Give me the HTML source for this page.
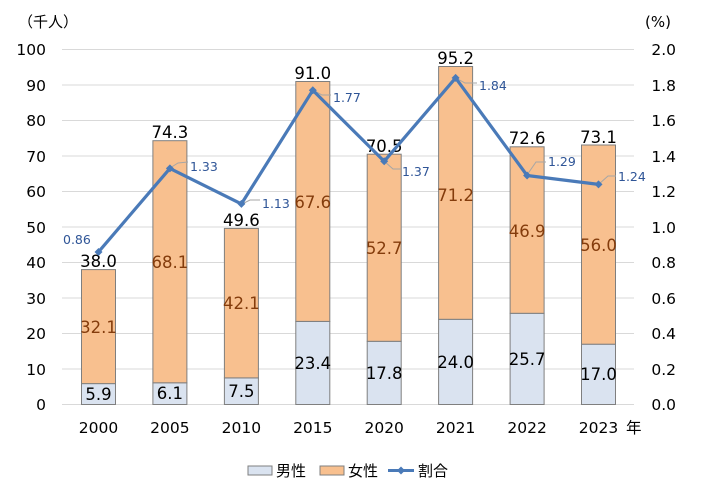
<!DOCTYPE html>
<html><head><meta charset="utf-8"><style>
body{margin:0;background:#fff}
svg text{font-family:"DejaVu Sans","Liberation Sans","Noto Sans CJK JP",sans-serif}
</style></head><body>
<svg width="701" height="493" viewBox="0 0 701 493" xmlns="http://www.w3.org/2000/svg">
<g stroke="#d9d9d9" stroke-width="1">
<line x1="62" x2="634" y1="49.5" y2="49.5"/><line x1="62" x2="634" y1="85" y2="85"/><line x1="62" x2="634" y1="120.5" y2="120.5"/><line x1="62" x2="634" y1="156" y2="156"/><line x1="62" x2="634" y1="191.5" y2="191.5"/><line x1="62" x2="634" y1="227" y2="227"/><line x1="62" x2="634" y1="262.5" y2="262.5"/><line x1="62" x2="634" y1="298" y2="298"/><line x1="62" x2="634" y1="333.5" y2="333.5"/><line x1="62" x2="634" y1="369" y2="369"/><line x1="62" x2="634" y1="404.5" y2="404.5"/>
</g>
<g font-size="15.5" fill="#000" text-anchor="end">
<text x="46" y="55">100</text><text x="46" y="91">90</text><text x="46" y="126">80</text><text x="46" y="162">70</text><text x="46" y="197">60</text><text x="46" y="233">50</text><text x="46" y="268">40</text><text x="46" y="304">30</text><text x="46" y="339">20</text><text x="46" y="375">10</text><text x="46" y="410">0</text>
<text x="676" y="55">2.0</text><text x="676" y="91">1.8</text><text x="676" y="126">1.6</text><text x="676" y="162">1.4</text><text x="676" y="197">1.2</text><text x="676" y="233">1.0</text><text x="676" y="268">0.8</text><text x="676" y="304">0.6</text><text x="676" y="339">0.4</text><text x="676" y="375">0.2</text><text x="676" y="410">0.0</text>
</g>
<text x="18" y="27" font-size="15">（千人）</text>
<text x="645" y="27" font-size="15">(%)</text>
<g stroke="#7f7f7f" stroke-width="1">
<rect x="81.5" y="383.6" width="34" height="20.9" fill="#dae3f0"/><rect x="81.5" y="269.6" width="34" height="114" fill="#f8c08f"/>
<rect x="152.9" y="382.8" width="34" height="21.7" fill="#dae3f0"/><rect x="152.9" y="140.7" width="34" height="242.1" fill="#f8c08f"/>
<rect x="224.4" y="377.9" width="34" height="26.6" fill="#dae3f0"/><rect x="224.4" y="228.4" width="34" height="149.5" fill="#f8c08f"/>
<rect x="295.8" y="321.4" width="34" height="83.1" fill="#dae3f0"/><rect x="295.8" y="81.5" width="34" height="239.9" fill="#f8c08f"/>
<rect x="367.2" y="341.3" width="34" height="63.2" fill="#dae3f0"/><rect x="367.2" y="154.2" width="34" height="187.1" fill="#f8c08f"/>
<rect x="438.6" y="319.3" width="34" height="85.2" fill="#dae3f0"/><rect x="438.6" y="66.5" width="34" height="252.8" fill="#f8c08f"/>
<rect x="510.1" y="313.3" width="34" height="91.2" fill="#dae3f0"/><rect x="510.1" y="146.8" width="34" height="166.5" fill="#f8c08f"/>
<rect x="581.5" y="344.2" width="34" height="60.3" fill="#dae3f0"/><rect x="581.5" y="145" width="34" height="199.2" fill="#f8c08f"/>
</g>
<g font-size="16.5" text-anchor="middle" fill="#000">
<text x="98.5" y="400">5.9</text><text x="169.9" y="399">6.1</text><text x="241.4" y="397">7.5</text><text x="312.8" y="369">23.4</text><text x="384.2" y="379">17.8</text><text x="455.6" y="368">24.0</text><text x="527.1" y="365">25.7</text><text x="598.5" y="380">17.0</text>
<text x="98.5" y="267">38.0</text><text x="169.9" y="138">74.3</text><text x="241.4" y="226">49.6</text><text x="312.8" y="79">91.0</text><text x="384.2" y="152">70.5</text><text x="455.6" y="64">95.2</text><text x="527.1" y="144">72.6</text><text x="598.5" y="143">73.1</text>
</g>
<g font-size="16.5" text-anchor="middle" fill="#843c0c">
<text x="98.5" y="333">32.1</text><text x="169.9" y="268">68.1</text><text x="241.4" y="309">42.1</text><text x="312.8" y="208">67.6</text><text x="384.2" y="254">52.7</text><text x="455.6" y="201">71.2</text><text x="527.1" y="237">46.9</text><text x="598.5" y="251">56.0</text>
</g>
<g stroke="#a6a6a6" stroke-width="1" fill="none">
<polyline points="170,168 178,163 188,162"/><polyline points="242,204 250,200 260,200"/><polyline points="313,90 322,95 331,95"/><polyline points="384,161 393,169 401,169"/><polyline points="456,78 465,83 477,83"/><polyline points="527,175 536,162 546,162"/><polyline points="599,184 608,176 616,176"/>
</g>
<polyline points="98.5,251.9 169.9,168.4 241.4,203.9 312.8,90.3 384.2,161.3 455.6,77.9 527.1,175.5 598.5,184.4" fill="none" stroke="#4a7ab8" stroke-width="3.2" stroke-linejoin="round"/>
<g fill="#4a7ab8">
<path d="M98.5 248 l4 4 -4 4 -4 -4z"/><path d="M169.9 164.4 l4 4 -4 4 -4 -4z"/><path d="M241.4 199.9 l4 4 -4 4 -4 -4z"/><path d="M312.8 86.3 l4 4 -4 4 -4 -4z"/><path d="M384.2 157.3 l4 4 -4 4 -4 -4z"/><path d="M455.6 73.9 l4 4 -4 4 -4 -4z"/><path d="M527.1 171.5 l4 4 -4 4 -4 -4z"/><path d="M598.5 180.4 l4 4 -4 4 -4 -4z"/>
</g>
<g font-size="12.5" fill="#2f5597">
<text x="63" y="244">0.86</text><text x="190" y="171">1.33</text><text x="262" y="208">1.13</text><text x="333" y="102">1.77</text><text x="402" y="176">1.37</text><text x="479" y="90">1.84</text><text x="548" y="166">1.29</text><text x="618" y="181">1.24</text>
</g>
<g font-size="15.5" text-anchor="middle" fill="#000">
<text x="98.5" y="433">2000</text><text x="169.9" y="433">2005</text><text x="241.4" y="433">2010</text><text x="312.8" y="433">2015</text><text x="384.2" y="433">2020</text><text x="455.6" y="433">2021</text><text x="527.1" y="433">2022</text><text x="598.5" y="433">2023</text>
</g>
<text x="626" y="433" font-size="15.5">年</text>
<rect x="248" y="466" width="24" height="9" fill="#dae3f0" stroke="#7f7f7f"/>
<text x="276" y="476" font-size="15">男性</text>
<rect x="320" y="466" width="24" height="9" fill="#f8c08f" stroke="#7f7f7f"/>
<text x="348" y="476" font-size="15">女性</text>
<line x1="388" x2="414" y1="470.5" y2="470.5" stroke="#4a7ab8" stroke-width="3"/>
<path d="M401 466.5 l4 4 -4 4 -4 -4z" fill="#4a7ab8"/>
<text x="418" y="476" font-size="15">割合</text>
</svg>
</body></html>
